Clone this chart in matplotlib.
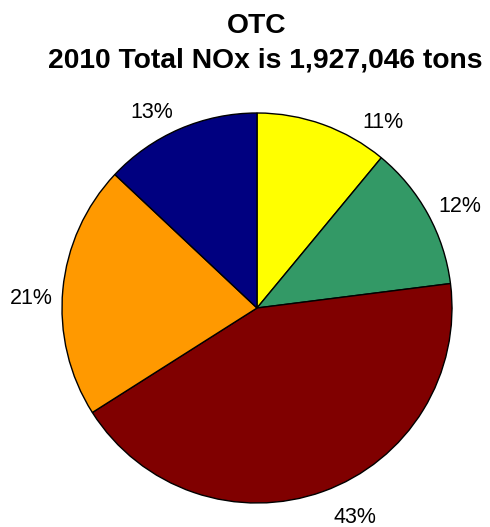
import numpy as np
import matplotlib
matplotlib.use("Agg")
import matplotlib.pyplot as plt

# Data
categories = ["Yellow", "Green", "Dark red", "Orange", "Navy"]
shares = [11, 12, 43, 21, 13]
labels = ["11%", "12%", "43%", "21%", "13%"]
colors = ["#FFFF00", "#339966", "#800000", "#FF9900", "#000080"]
title_line1 = "OTC"
title_line2 = "2010 Total NOx is 1,927,046 tons"

# Label placement style (angular nudge in degrees, radial distance)
label_nudge = [-14.0, -1.7, 5.5, 2.4, 4.6]
label_dist = [1.16, 1.17, 1.175, 1.16, 1.15]

plt.rcParams['font.family'] = ['Liberation Sans', 'DejaVu Sans']

W, H = 490, 527
fig = plt.figure(figsize=(W / 100, H / 100), dpi=100)
cx, cy, r = 257, 308, 195
ax = fig.add_axes([(cx - r) / W, (H - cy - r) / H, 2 * r / W, 2 * r / H])
wedges, _ = ax.pie(shares, colors=colors, startangle=90, counterclock=False,
                   wedgeprops=dict(edgecolor="black", linewidth=1.0))
ax.set_xlim(-1, 1)
ax.set_ylim(-1, 1)
ax.axis("off")

for w, lab, nd, dist in zip(wedges, labels, label_nudge, label_dist):
    mid = np.deg2rad((w.theta1 + w.theta2) / 2 + nd)
    ax.text(dist * np.cos(mid), dist * np.sin(mid), lab, ha="center",
            va="center_baseline", fontsize=15.5, color="black", clip_on=False)

fig.text(257 / W, 1 - 33 / H, title_line1, ha="center", va="baseline",
         fontsize=20.3, fontweight="bold")
fig.text(265 / W, 1 - 67 / H, title_line2, ha="center", va="baseline",
         fontsize=20.3, fontweight="bold")

fig.savefig("out.png", dpi=100)
